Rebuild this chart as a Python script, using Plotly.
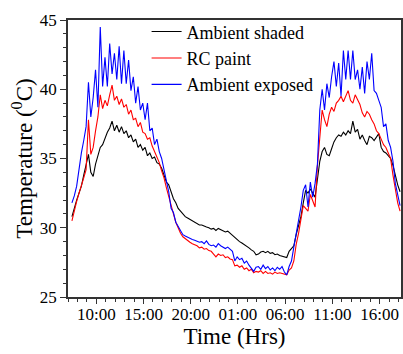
import pandas as pd
import plotly.graph_objects as go

# Sampling times: every 15 minutes, 07:25 on day 1 to 18:10 on day 2
times = pd.date_range("2021-04-01 07:25", periods=140, freq="15min")

ambient_shaded = [
    30.8, 31.5, 32.0, 32.5, 33.0, 33.8, 34.6, 35.3, 34.0, 33.7,
    34.6, 35.3, 35.8, 36.0, 36.5, 36.9, 37.2, 37.7, 37.0, 37.4,
    36.9, 37.3, 36.8, 37.0, 36.5, 36.7, 36.2, 36.4, 35.8, 36.0,
    35.6, 35.8, 35.2, 35.4, 35.0, 35.1, 34.7, 34.6, 34.3, 33.8,
    33.3, 33.1, 32.6, 32.1, 31.8, 31.4, 31.2, 31.0, 30.8, 30.7,
    30.6, 30.45, 30.4, 30.3, 30.2, 30.2, 30.1, 30.05, 30.0, 29.9,
    29.95, 29.8, 29.95, 29.85, 29.75, 29.7, 29.75, 29.6, 29.45, 29.3,
    29.1, 29.0, 28.9, 28.8, 28.7, 28.55, 28.4, 28.3, 28.05, 28.1,
    28.25, 28.3, 28.2, 28.3, 28.15, 28.2, 28.05, 28.1, 28.0, 27.95,
    27.9, 27.85, 28.3, 28.5, 28.7, 29.5, 30.1, 30.8, 31.8, 32.7,
    32.5, 32.8, 32.5, 32.2, 33.5, 34.8, 35.5, 35.8, 35.3, 35.2,
    35.7, 36.2, 36.5, 36.7, 36.6, 36.9, 36.7, 37.0, 36.8, 37.7,
    36.9, 37.1, 36.4, 36.7, 36.3, 36.0, 36.6, 36.5, 36.3, 36.6,
    36.8, 35.8, 35.5, 35.4, 35.2, 35.0, 34.5, 33.7, 33.1, 32.6,
]

rc_paint = [
    30.5, 31.3, 31.9, 32.5, 33.0, 33.6, 34.2, 37.8, 35.3, 35.8,
    37.0, 38.0, 39.6, 38.6, 39.2, 38.8, 39.6, 40.3, 39.2, 39.5,
    38.9, 39.3, 38.7, 38.9, 38.2, 38.5, 37.8, 37.9, 37.3, 37.6,
    36.9, 36.8, 36.4, 36.5, 35.9, 35.5, 35.2, 34.7, 34.1, 33.6,
    32.9, 32.2, 31.6, 31.0, 30.4, 30.0, 29.6, 29.35, 29.2, 29.05,
    28.95, 28.85, 28.8, 28.7, 28.55, 28.6, 28.45, 28.5, 28.35, 28.3,
    28.1, 27.9, 28.1, 28.0, 28.05, 27.85, 27.9, 27.75, 27.7, 27.25,
    27.3, 27.15, 27.25, 27.0, 27.1, 26.9, 27.0, 26.75, 26.85, 26.8,
    26.9, 26.7, 26.85, 26.7, 26.75, 26.65, 26.8, 26.7, 26.75, 26.7,
    26.6, 26.6, 26.95, 27.1, 27.6, 28.8, 29.6, 30.5, 31.6, 31.4,
    31.2, 32.4, 32.0, 31.5, 34.5, 36.8, 38.5, 37.8, 37.3, 38.2,
    38.7, 38.4, 39.0, 39.2, 39.5, 39.1, 39.5, 39.9, 39.2, 39.0,
    39.6, 39.2, 38.9, 38.3, 38.0, 38.4, 38.2, 37.8, 37.5, 37.0,
    36.8, 36.4, 36.0, 35.8, 35.4, 35.0, 33.8, 32.7, 31.8, 31.2,
]

ambient_exposed = [
    31.8, 32.3, 33.0, 34.3, 35.4, 36.3, 37.3, 40.5, 38.0, 39.4,
    41.4, 38.7, 44.5, 40.2, 42.3, 40.2, 43.3, 41.1, 42.6, 40.7,
    43.1, 40.4, 42.8, 40.4, 42.1, 39.9, 40.9, 39.0, 40.2, 38.5,
    39.0, 37.8, 39.0, 37.0, 37.2, 36.0, 36.4, 35.5, 35.0, 34.2,
    33.3, 32.6, 31.4, 31.1, 30.4, 30.1, 29.75, 29.5, 29.4, 29.3,
    29.2, 29.15, 29.1, 29.0, 28.95, 29.0, 28.85, 29.05, 28.8, 28.7,
    28.75, 28.6, 28.85, 28.7, 28.6, 28.5, 28.6, 28.45, 28.3, 27.6,
    27.9, 27.7, 27.8, 27.45, 27.6, 27.3, 27.1, 26.85, 27.15, 27.2,
    27.0, 27.3, 27.05, 27.2, 26.95, 27.1, 26.9, 27.15, 27.0, 27.2,
    26.8, 26.6, 27.2, 27.6, 28.6, 29.6, 30.3, 31.5, 32.7, 33.1,
    31.5, 33.3, 32.2, 33.2, 34.6, 38.5, 40.0, 38.5, 40.4, 39.4,
    40.9, 42.0, 40.2, 41.9, 39.5, 42.8, 40.7, 42.8, 40.7, 42.8,
    40.7, 41.4, 40.0, 41.6, 39.7, 42.0, 40.7, 42.6, 39.9, 39.7,
    39.2, 38.7, 37.3, 37.5, 36.3, 35.8, 34.8, 33.2, 32.4, 31.6,
]

series_names = ["Ambient shaded", "RC paint", "Ambient exposed"]
series_values = [ambient_shaded, rc_paint, ambient_exposed]
series_colors = ["black", "red", "blue"]

tick_times = pd.date_range("2021-04-01 10:00", periods=7, freq="5h")
tick_labels = ["10:00", "15:00", "20:00", "01:00", "06:00", "11:00", "16:00"]

FONT = "Liberation Serif"

fig = go.Figure()
for name, vals, col in zip(series_names, series_values, series_colors):
    fig.add_trace(go.Scatter(x=times, y=vals, mode="lines", name=name,
                             line=dict(color=col, width=1.1)))

axis_common = dict(
    showline=True, linecolor="#333", linewidth=1.5, mirror=True,
    ticks="outside", tickcolor="#333", tickwidth=1.2,
    showgrid=False, zeroline=False,
    tickfont=dict(family=FONT, size=17, color="black"),
)

fig.update_xaxes(
    **axis_common,
    range=["2021-04-01 07:00", "2021-04-02 18:16"],
    tickvals=tick_times, ticktext=tick_labels, ticklen=5,
    ticklabelstandoff=-4,
    minor=dict(dtick=3600000, ticks="outside", ticklen=3,
               tickcolor="#333", tickwidth=1),
    title=dict(text="Time (Hrs)", font=dict(family=FONT, size=23, color="black"),
               standoff=2),
)
fig.update_yaxes(
    **axis_common,
    range=[25, 45], tick0=25, dtick=5, ticklen=6,
    minor=dict(dtick=1, ticks="outside", ticklen=3,
               tickcolor="#333", tickwidth=1),
    title=dict(text="Temperature (<sup>0</sup>C)",
               font=dict(family=FONT, size=23, color="black"), standoff=1),
)

fig.update_layout(
    width=403, height=354,
    margin=dict(l=68, r=0, t=20, b=57),
    paper_bgcolor="white", plot_bgcolor="white",
    showlegend=True,
    legend=dict(x=0.236, y=1.024, xanchor="left", yanchor="top",
                bgcolor="rgba(0,0,0,0)", borderwidth=0,
                font=dict(family=FONT, size=18, color="black"),
                tracegroupgap=0),
)

fig.write_html("out.html")
